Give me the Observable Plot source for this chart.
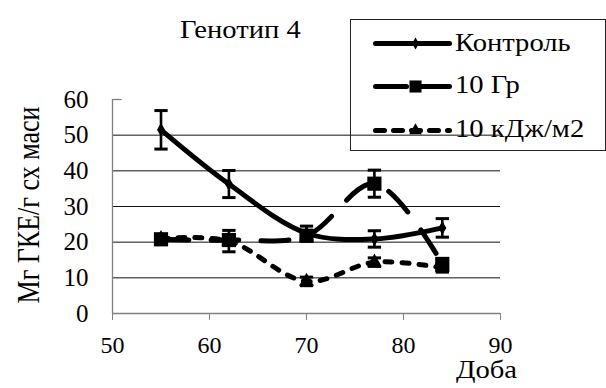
<!DOCTYPE html>
<html>
<head>
<meta charset="utf-8">
<script src="https://cdn.jsdelivr.net/npm/d3@7"></script>
<script src="https://cdn.jsdelivr.net/npm/@observablehq/plot@0.6"></script>
<style>
  html, body { margin: 0; padding: 0; background: #fff; }
  #wrap { position: relative; width: 606px; height: 388px; color: #000; overflow: hidden; }
  #wrap, #wrap * { font-family: 'Liberation Serif' !important; }
  #wrap svg text { font-family: 'Liberation Serif' !important; }
  .abs { position: absolute; white-space: nowrap; line-height: 1; transform-origin: 0 50%; }
  #legend { position: absolute; left: 350px; top: 19px; width: 256px; height: 132px; border: 1px solid #222; box-sizing: border-box; }
  .sample { position: absolute; }
</style>
</head>
<body>
<div id="wrap"></div>
<script>
// ---- data ----
const days = [55, 62, 70, 77, 84];
const seriesNames = ["Контроль", "10 Гр", "10 кДж/м2"];
const control    = [51.5, 36.3, 22.5, 20.9, 24.0];
const controlErr = [5.4, 3.8, 2.0, 2.3, 2.6];
const gray10     = [20.8, 20.6, 21.8, 36.4, 13.9];
const gray10Err  = [1.2, 1.5, 1.5, 3.8, 1.5];
const kj10       = [21.0, 20.3, 9.0, 14.4, 12.8];
const kj10Err    = [1.2, 3.0, 1.2, 1.2, 1.2];
const xTicks = [50, 60, 70, 80, 90];
const yTicks = [0, 10, 20, 30, 40, 50, 60];
const gridValues = [10, 20, 30, 40, 50];
const titleText = "Генотип 4";
const xLabel = "Доба";
const yLabel = "Мг ГКЕ/г сх маси";

// ---- styles per series ----
const styles = [
  {dash: null,    legendDash: null,    symbol: "diamond",  r: 4.2},
  {dash: "28,22", legendDash: "31,14", symbol: "square",   r: 8},
  {dash: "7,10",  legendDash: "9,9",   symbol: "triangle", r: 5.5}
];

const valuesBySeries = [control, gray10, kj10];
const errBySeries = [controlErr, gray10Err, kj10Err];
const tables = valuesBySeries.map((vals, s) =>
  days.map((d, i) => ({series: seriesNames[s], day: d, value: vals[i], err: errBySeries[s][i]}))
);

const hbar = {
  draw(context, size) {
    const w = Math.sqrt(size);
    context.moveTo(-w / 2, 0);
    context.lineTo(w / 2, 0);
  }
};

const FONT = "'Liberation Serif'";

const marks = [
  Plot.ruleY(gridValues, {stroke: "#111", strokeWidth: 1}),
  Plot.ruleY([60], {x1: 50, x2: 51, stroke: "#808080", strokeWidth: 1.3}),
  Plot.ruleX([50], {stroke: "#808080", strokeWidth: 1.3}),
  Plot.ruleY([0], {stroke: "#808080", strokeWidth: 1.3}),
  Plot.axisX(xTicks, {tickSize: 7, tickPadding: 15, stroke: "#808080", fill: "#000", fontSize: 24, label: null, tickFormat: d => String(d)}),
  Plot.axisY(yTicks, {tickSize: 0, tickPadding: 24, fill: "#000", fontSize: 25, label: null, tickFormat: d => String(d)})
];

tables.forEach((t, s) => {
  const st = styles[s];
  marks.push(Plot.line(t, {
    x: "day", y: "value", curve: "catmull-rom",
    stroke: "#000", strokeWidth: 5, strokeLinecap: "round", strokeLinejoin: "round",
    strokeDasharray: st.dash || undefined
  }));
  marks.push(Plot.ruleX(t, {x: "day", y1: d => d.value - d.err, y2: d => d.value + d.err, stroke: "#000", strokeWidth: 2.6}));
  marks.push(Plot.dot(t, {x: "day", y: d => d.value - d.err, symbol: hbar, r: 7.5, stroke: "#000", strokeWidth: 3}));
  marks.push(Plot.dot(t, {x: "day", y: d => d.value + d.err, symbol: hbar, r: 7.5, stroke: "#000", strokeWidth: 3}));
  marks.push(Plot.dot(t, {x: "day", y: "value", symbol: st.symbol, r: st.r, fill: "#000", stroke: "none"}));
});

const chart = Plot.plot({
  width: 606, height: 388,
  marginLeft: 112, marginRight: 106, marginTop: 99, marginBottom: 75,
  x: {domain: [50, 90], axis: null},
  y: {domain: [0, 60], axis: null},
  style: {fontFamily: FONT, background: "transparent", color: "#000"},
  marks
});
chart.style.position = "absolute";
chart.style.left = "0px";
chart.style.top = "0px";
chart.querySelectorAll("text").forEach(t => { t.setAttribute("font-family", "Liberation Serif"); t.style.fontFamily = FONT; });

const wrap = document.getElementById("wrap");
wrap.appendChild(chart);

function addText(txt, left, top, size, sx, extra) {
  const el = document.createElement("div");
  el.className = "abs";
  el.style.left = left + "px";
  el.style.top = top + "px";
  el.style.fontSize = size + "px";
  el.style.fontFamily = FONT;
  el.style.transform = extra || ("scaleX(" + sx + ")");
  el.textContent = txt;
  wrap.appendChild(el);
  return el;
}

// title, axis labels
addText(titleText, 180, 17, 26, 1.1);
const xl = addText(xLabel, 456, 362, 26, 1.1);
xl.style.lineHeight = "0.6";
const yl = addText(yLabel, 29, 205, 26, 1, "translate(-50%,-50%) scaleX(1.2) rotate(-90deg)");
yl.style.transformOrigin = "50% 50%";

// legend box
const legend = document.createElement("div");
legend.id = "legend";
wrap.appendChild(legend);

const lineCenters = [42.5, 86, 130];
const textTops = [30, 72, 116];
seriesNames.forEach((name, s) => {
  const st = styles[s];
  const sample = Plot.plot({
    width: 84, height: 30, margin: 0,
    x: {domain: [0, 84], axis: null},
    y: {domain: [0, 30], axis: null},
    style: {background: "transparent"},
    marks: [
      Plot.line([{a: 5, b: 15}, {a: 79, b: 15}], {x: "a", y: "b", stroke: "#000", strokeWidth: 5,
        strokeLinecap: "round", strokeDasharray: st.legendDash || undefined}),
      Plot.dot([{a: 45, b: 15}], {x: "a", y: "b", symbol: st.symbol, r: st.r * 0.85, fill: "#000"})
    ]
  });
  sample.classList.add("sample");
  sample.style.left = "370px";
  sample.style.top = (lineCenters[s] - 15) + "px";
  wrap.appendChild(sample);
  addText(name, 455, textTops[s], 26, 1.1);
});
</script>
</body>
</html>
